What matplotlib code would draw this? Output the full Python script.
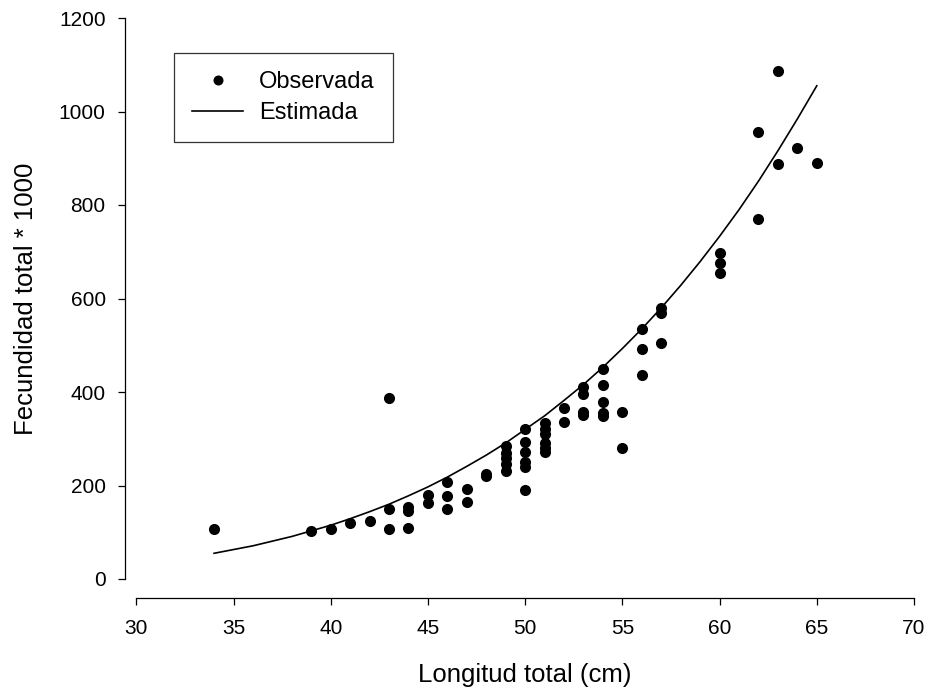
import matplotlib
matplotlib.use("Agg")
import matplotlib.pyplot as plt

plt.rcParams['font.family'] = ['Liberation Sans', 'DejaVu Sans']

# Observed data (length cm, fecundity * 1000)
obs_length = [34, 39, 40, 41, 42,
              43, 43, 43,
              44, 44, 44,
              45, 45,
              46, 46, 46,
              47, 47,
              48, 48,
              49, 49, 49, 49, 49,
              50, 50, 50, 50, 50, 50,
              51, 51, 51, 51, 51, 51,
              52, 52,
              53, 53, 53, 53,
              54, 54, 54, 54, 54,
              55, 55,
              56, 56, 56,
              57, 57, 57,
              60, 60, 60,
              62, 62,
              63, 63,
              64, 65]
obs_fec = [107, 103, 107, 120, 125,
           388, 150, 108,
           155, 145, 110,
           180, 163,
           208, 177, 150,
           192, 165,
           225, 220,
           285, 270, 258, 245, 232,
           320, 293, 272, 250, 240, 190,
           333, 320, 310, 290, 280, 272,
           365, 335,
           410, 395, 358, 350,
           450, 416, 378, 355, 348,
           358, 280,
           535, 493, 437,
           580, 570, 505,
           697, 676, 655,
           957, 770,
           1087, 887,
           922, 890]

# Estimated (fitted) values
est_length = [34, 35, 36, 37, 38, 39, 40, 41, 42, 43, 44, 45, 46, 47, 48, 49,
              50, 51, 52, 53, 54, 55, 56, 57, 58, 59, 60, 61, 62, 63, 64, 65]
est_fec = [55, 63, 71, 81, 91, 103, 115, 129, 144, 160, 178, 197, 218, 241,
           265, 291, 320, 349, 382, 416, 453, 493, 535, 580, 628, 679, 733,
           790, 851, 916, 984, 1055]

x_ticks = [30, 35, 40, 45, 50, 55, 60, 65, 70]
y_ticks = [0, 200, 400, 600, 800, 1000, 1200]

fig = plt.figure(figsize=(9.32, 6.97), dpi=100)
ax = fig.add_axes([136.3 / 932, 118 / 697, 777.7 / 932, 561 / 697])

ax.plot(obs_length, obs_fec, 'o', color='black', markersize=8,
        markeredgewidth=0, label='Observada', zorder=3)
ax.plot(est_length, est_fec, '-', color='black', linewidth=1.2,
        label='Estimada', zorder=2)

ax.set_xlim(30, 70)
ax.set_ylim(0, 1200)
ax.set_xticks(x_ticks)
ax.set_yticks(y_ticks)

for side in ['top', 'right']:
    ax.spines[side].set_visible(False)
ax.spines['left'].set_position(('outward', 8))
ax.spines['bottom'].set_position(('outward', 13.7))
ax.spines['left'].set_linewidth(0.9)
ax.spines['bottom'].set_linewidth(0.9)

ax.tick_params(axis='both', direction='out', length=5, width=0.9,
               labelsize=15, color='black')
ax.tick_params(axis='y', pad=9)
ax.tick_params(axis='x', pad=10)

ax.set_xlabel('Longitud total (cm)', fontsize=18.5, labelpad=18)
ax.set_ylabel('Fecundidad total * 1000', fontsize=18.5, labelpad=15)

leg = ax.legend(loc='upper left', bbox_to_anchor=(174 / 932, 1 - 52.5 / 697),
                bbox_transform=fig.transFigure, fontsize=17, frameon=True,
                fancybox=False, borderaxespad=0, borderpad=0.78,
                handlelength=2.15, handletextpad=0.68, labelspacing=0.38,
                markerscale=0.9)
leg.get_frame().set_edgecolor('black')
leg.get_frame().set_linewidth(0.9)

fig.savefig('out.png', dpi=100)
